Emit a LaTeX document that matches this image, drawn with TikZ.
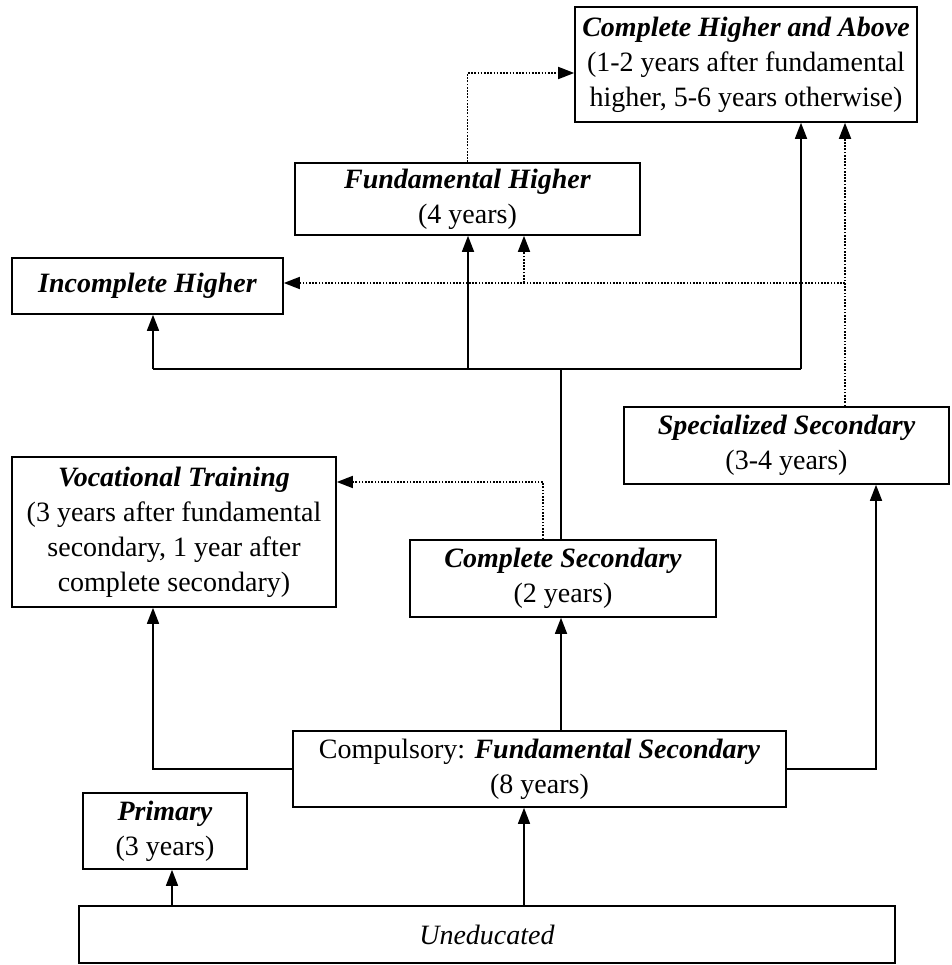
\documentclass[tikz,border=0pt]{standalone}
\usepackage{fontspec}
\setmainfont{Liberation Serif}
\usetikzlibrary{arrows.meta}
\newcommand\headtxt[1]{\textbf{\textit{#1}}}
\begin{document}
\begin{tikzpicture}[x=1pt,y=-1pt,
 box/.style={draw, line width=1.6pt, align=center, inner sep=0pt, font=\fontsize{28}{35}\selectfont},
 arr/.style={line width=1.5pt, -{Triangle[length=16pt,width=12pt]}},
 darr/.style={arr, line width=1.7pt, dash pattern=on 1.7pt off 1.5pt},
 sline/.style={line width=1.5pt}]
\useasboundingbox (0,0) rectangle (951,965);
\node[box, minimum width=342pt, minimum height=115pt] (CH) at (746,64.5)
  {\headtxt{Complete Higher and Above}\\(1-2 years after fundamental\\higher, 5-6 years otherwise)};
\node[box, minimum width=345pt, minimum height=72pt] (FH) at (467.5,199)
  {\headtxt{Fundamental Higher}\\(4 years)};
\node[box, minimum width=271pt, minimum height=56pt] (IH) at (147.5,286)
  {\headtxt{Incomplete Higher}};
\node[box, minimum width=325pt, minimum height=77pt] (SS) at (786.5,445.5)
  {\headtxt{Specialized Secondary}\\(3-4 years)};
\node[box, minimum width=324pt, minimum height=150pt] (VT) at (174,532)
  {\headtxt{Vocational Training}\\(3 years after fundamental\\secondary, 1 year after\\complete secondary)};
\node[box, minimum width=306pt, minimum height=77pt] (CS) at (563,578.5)
  {\headtxt{Complete Secondary}\\(2 years)};
\node[box, minimum width=493pt, minimum height=76pt] (FS) at (539.5,769)
  {Compulsory: \headtxt{Fundamental Secondary}\\(8 years)};
\node[box, minimum width=164pt, minimum height=76pt] (PR) at (165,831)
  {\headtxt{Primary}\\(3 years)};
\node[box, minimum width=816pt, minimum height=57pt] (UN) at (487,934.5)
  {\textit{Uneducated}};
\coordinate (xL) at (153,0);
\coordinate (xFH) at (468,0);
\coordinate (xC) at (561,0);
\coordinate (xCH) at (801,0);
\coordinate (xD) at (845,0);
\coordinate (xFHd) at (524,0);
\coordinate (xSS) at (876,0);
\coordinate (xPR) at (172,0);
\coordinate (xFS) at (524,0);
\coordinate (xCSd) at (543,0);
\coordinate (yH) at (0,369);
\coordinate (yD) at (0,283);
\coordinate (yT) at (0,73);
\coordinate (yV) at (0,482);
\draw[sline] (CS.north -| xC) -- (xC |- yH);
\draw[sline] (xL |- yH) -- (xCH |- yH);
\draw[arr] (xL |- yH) -- (IH.south -| xL);
\draw[arr] (xFH |- yH) -- (FH.south -| xFH);
\draw[arr] (xCH |- yH) -- (CH.south -| xCH);
\draw[darr] (SS.north -| xD) -- (CH.south -| xD);
\draw[darr] (xD |- yD) -- (IH.east |- yD);
\draw[darr] (xFHd |- yD) -- (FH.south -| xFHd);
\draw[darr] (FH.north) |- (CH.west |- yT);
\draw[darr] (CS.north -| xCSd) |- (VT.east |- yV);
\draw[arr] (FS.west) -| (VT.south -| xL);
\draw[arr] (FS.east) -| (SS.south -| xSS);
\draw[arr] (FS.north -| xC) -- (CS.south -| xC);
\draw[arr] (UN.north -| xPR) -- (PR.south -| xPR);
\draw[arr] (UN.north -| xFS) -- (FS.south -| xFS);
\end{tikzpicture}
\end{document}
